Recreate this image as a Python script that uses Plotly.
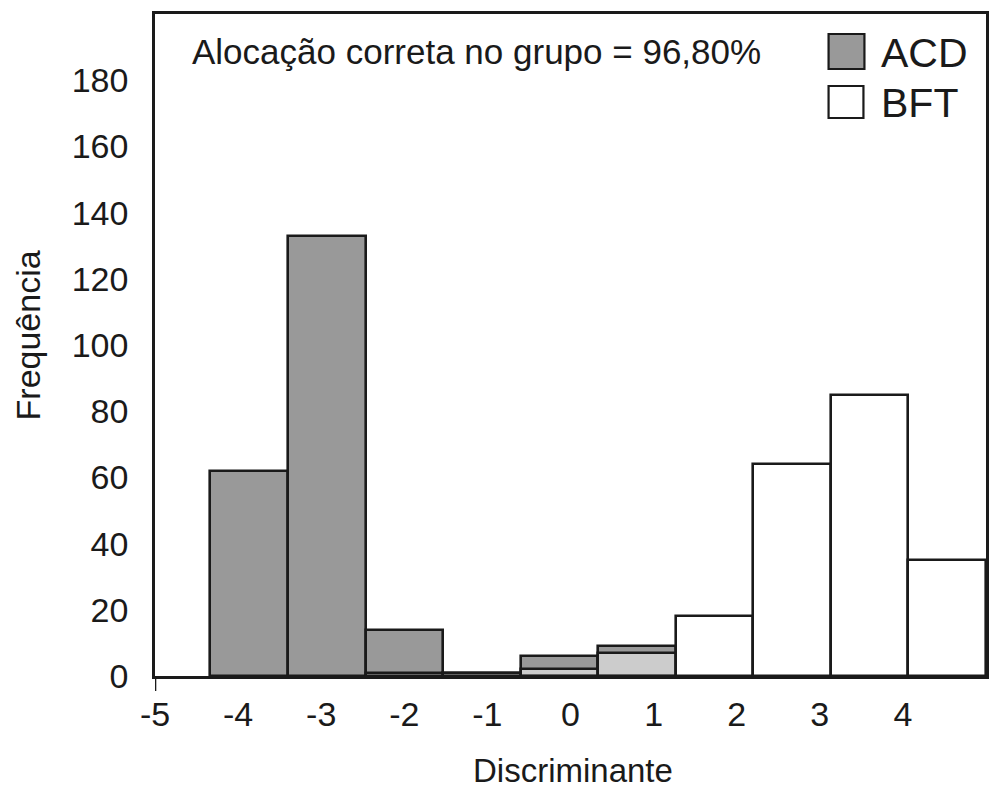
import plotly.graph_objects as go

# Histogram bins of the discriminant score (centres, common width)
bin_centers = [-3.867, -2.933, -2.0, -1.067, -0.133, 0.8, 1.733, 2.667, 3.6, 4.533]
bin_width = 0.9333

# Frequencies per bin for each group
acd_counts = [62, 133, 14, 1, 6, 9, 0, 0, 0, 0]
bft_counts = [0, 0, 1, 1, 2, 7, 18, 64, 85, 35]

x_ticks = [-5, -4, -3, -2, -1, 0, 1, 2, 3, 4]
y_ticks = [0, 20, 40, 60, 80, 100, 120, 140, 160, 180]

FONT = "Liberation Sans, Arial, sans-serif"
W, H = 990, 789
L, R, T, B = 155, 1, 14, 113
PW, PH = W - L - R, H - T - B


def px_x(p):
    return (p - L) / PW


def px_y(p):
    return (H - B - p) / PH


fig = go.Figure()
fig.add_trace(go.Bar(
    x=bin_centers, y=[v if v else None for v in acd_counts], width=bin_width,
    marker=dict(color="#999999", line=dict(color="#1a1a1a", width=2.6)),
    name="ACD", showlegend=False,
))
fig.add_trace(go.Bar(
    x=bin_centers, y=[v if v else None for v in bft_counts], width=bin_width,
    marker=dict(color="rgba(255,255,255,0.5)", line=dict(color="#1a1a1a", width=2.6)),
    name="BFT", showlegend=False,
))

shapes = [
    # short extension of the vertical axis below the baseline
    dict(type="line", xref="x", yref="paper", x0=-5, x1=-5, y0=0, y1=-15 / PH,
         line=dict(color="#1a1a1a", width=2.6)),
    # legend swatches
    dict(type="rect", xref="paper", yref="paper",
         x0=px_x(831), x1=px_x(867), y0=px_y(69), y1=px_y(34),
         fillcolor="#999999", line=dict(color="#1a1a1a", width=2.2)),
    dict(type="rect", xref="paper", yref="paper",
         x0=px_x(831), x1=px_x(866), y0=px_y(118), y1=px_y(86),
         fillcolor="white", line=dict(color="#1a1a1a", width=2.2)),
]

annotations = [
    dict(text="Alocação correta no grupo = 96,80%", xref="paper", yref="paper",
         x=px_x(190), y=px_y(51), xanchor="left", yanchor="middle",
         showarrow=False, font=dict(family=FONT, size=35, color="#1a1a1a")),
    dict(text="ACD", xref="paper", yref="paper",
         x=px_x(882), y=px_y(53), xanchor="left", yanchor="middle",
         showarrow=False, font=dict(family=FONT, size=41, color="#1a1a1a")),
    dict(text="BFT", xref="paper", yref="paper",
         x=px_x(882), y=px_y(103), xanchor="left", yanchor="middle",
         showarrow=False, font=dict(family=FONT, size=41, color="#1a1a1a")),
    dict(text="Discriminante", xref="paper", yref="paper",
         x=px_x(575), y=px_y(770), xanchor="center", yanchor="middle",
         showarrow=False, font=dict(family=FONT, size=33, color="#1a1a1a")),
    dict(text="Frequência", xref="paper", yref="paper",
         x=px_x(28), y=px_y(335), xanchor="center", yanchor="middle",
         textangle=-90, showarrow=False,
         font=dict(family=FONT, size=34, color="#1a1a1a")),
]

fig.update_layout(
    width=W, height=H,
    margin=dict(l=L, r=R, t=T, b=B, pad=0),
    paper_bgcolor="white", plot_bgcolor="white",
    barmode="overlay", bargap=0,
    font=dict(family=FONT, size=34, color="#1a1a1a"),
    shapes=shapes, annotations=annotations,
)
fig.update_xaxes(
    range=[-5, 5], tickvals=x_ticks, ticktext=[str(v) for v in x_ticks],
    showgrid=False, zeroline=False, showline=True, linecolor="#1a1a1a",
    linewidth=2.6, mirror=True, ticks="", ticklabelstandoff=6,
    tickfont=dict(family=FONT, size=34, color="#1a1a1a"),
)
fig.update_yaxes(
    range=[0, 200], tickvals=y_ticks, ticktext=[str(v) for v in y_ticks],
    showgrid=False, zeroline=False, showline=True, linecolor="#1a1a1a",
    linewidth=2.6, mirror=True, ticks="", ticklabelstandoff=17,
    tickfont=dict(family=FONT, size=34, color="#1a1a1a"),
)

fig.write_html("out.html")
